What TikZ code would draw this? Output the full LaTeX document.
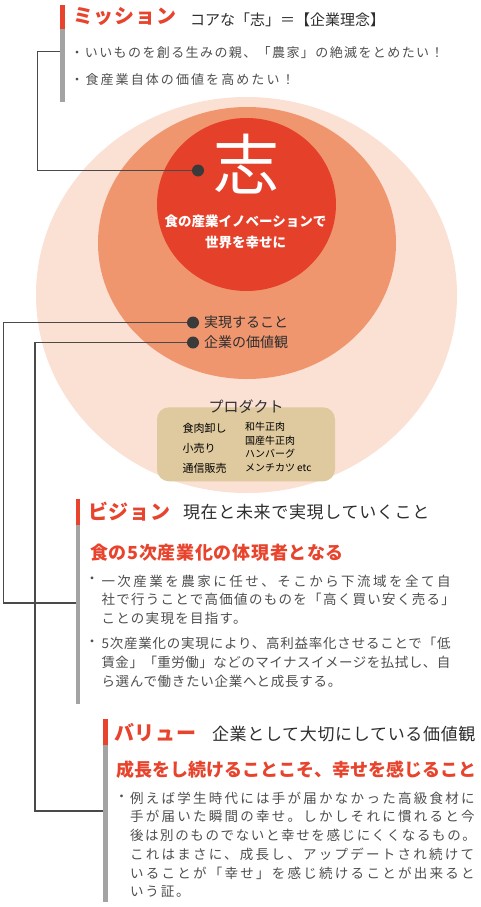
\documentclass[tikz,border=0pt]{standalone}
\usepackage{fontspec}
\setmainfont{Noto Sans CJK JP}
\newcommand\fsz[1]{\fontsize{#1}{#1}\selectfont}
\newcommand\lsp[2]{{\addfontfeatures{LetterSpace=#1}#2}}
\definecolor{cOuter}{HTML}{FBE0D4}
\definecolor{cMid}{HTML}{F0966F}
\definecolor{cInner}{HTML}{E5402A}
\definecolor{tred}{HTML}{E8432C}
\definecolor{bgray}{HTML}{A3A3A3}
\definecolor{lcol}{HTML}{4A4A4A}
\definecolor{dotcol}{HTML}{3A3A3A}
\definecolor{tan}{HTML}{DFC99F}
\definecolor{tdark}{HTML}{2E2E2E}
\definecolor{tgray}{HTML}{4F4F4F}
\tikzset{
  ttl/.style={anchor=west, text=tred, font=\fsz{20}\bfseries},
  hdr/.style={anchor=west, text=tdark, font=\fsz{17}},
  subt/.style={anchor=west, text=tred, font=\fsz{18}\bfseries},
  body/.style={anchor=west, text=tgray, font=\fsz{13.5}},
  bul/.style={anchor=center, text=tgray, font=\fsz{13.5}},
  conn/.style={draw=lcol, line width=1.2pt},
  dotn/.style={circle, fill=dotcol, minimum size=12pt},
  lbl/.style={anchor=west, text=tdark, font=\fsz{14}},
  prod/.style={anchor=west, text=black, font=\fsz{11}},
  prodr/.style={anchor=west, text=black, font=\fsz{10}},
  wtxt/.style={anchor=center, text=white, font=\fsz{13.5}\bfseries},
}
\begin{document}
\begin{tikzpicture}[x=1pt, y=-1pt, every node/.style={inner sep=0pt, outer sep=0pt}]
\useasboundingbox (0,0) rectangle (480,907);
\fill[white] (0,0) rectangle (480,907);
% circles
\fill[cOuter] (246.5,295) ellipse [x radius=210.5, y radius=198];
\fill[cMid] (247,243) ellipse [x radius=149, y radius=136];
\fill[cInner] (246.5,204.5) ellipse [x radius=89.5, y radius=86.5];
% product box
\node[fill=tan, rounded corners=12pt, minimum width=178pt, minimum height=74pt] (pbox) at (246,444.3) {};
\node[anchor=center, text=tdark, font=\fsz{15}] (ptitle) at (246,406.3) {プロダクト};
\node[prod] (p1) at (182.5,428.5) {食肉卸し};
\node[prod] (p2) at (182.5,448) {小売り};
\node[prod] (p3) at (182.5,468) {通信販売};
\node[prodr] (q1) at (245,427) {和牛正肉};
\node[prodr] (q2) at (245,441) {国産牛正肉};
\node[prodr] (q3) at (245,454) {ハンバーグ};
\node[prodr] (q4) at (245,467.5) {メンチカツ etc};
% circle texts
\node[anchor=center, text=white, font=\fsz{66}] (kokoro) at (246.5,164) {志};
\node[wtxt] (w1) at (245.5,221) {食の産業イノベーションで};
\node[wtxt] (w2) at (245.5,242.5) {世界を幸せに};
% bars
\fill[tred] (60,5) rectangle (64.5,29);
\fill[bgray] (60,29) rectangle (64.5,102);
\fill[tred] (75.5,499) rectangle (80,525);
\fill[bgray] (75.5,525) rectangle (80,704);
\fill[tred] (103,719) rectangle (107.5,745);
\fill[bgray] (103,745) rectangle (107.5,902);
% dots and labels
\node[dotn] (d1) at (198,170.5) {};
\node[dotn] (d2) at (193,322.5) {};
\node[dotn] (d3) at (193,342.5) {};
\node[lbl] (l2) at (204,322) {実現すること};
\node[lbl] (l3) at (204,342) {企業の価値観};
% connectors
\coordinate (m0) at (37.7,51.7);
\coordinate (m1) at (60,51.7);
\coordinate (v0) at (3.3,603);
\coordinate (v1) at (75.5,603);
\coordinate (u0) at (35,811);
\coordinate (u1) at (103,811);
\draw[conn] (d1.west) -| (m0) -- (m1);
\draw[conn] (d2.west) -| (v0) -- (v1);
\draw[conn] (d3.west) -| (u0) -- (u1);
% mission
\node[ttl] (mt) at (73,16.5) {\lsp{4}{ミッション}};
\node[hdr, font=\fsz{15}] (mh) at (190,19.5) {コアな「志」＝【企業理念】};
\node[body, font=\fsz{13}] (mb1) at (70.5,53) {\lsp{10.8}{・いいものを創る生みの親、「農家」の絶滅をとめたい！}};
\node[body, font=\fsz{13}] (mb2) at (70.5,80) {\lsp{16}{・食産業自体の価値を高めたい！}};
% vision
\node[ttl] (vt) at (88,512) {\lsp{4}{ビジョン}};
\node[hdr] (vh) at (183,512.5) {\lsp{4}{現在と未来で実現していくこと}};
\node[subt] (vs) at (90,553) {\lsp{4}{食の5次産業化の体現者となる}};
\node[bul] (vb1) at (92,580.5) {・};
\node[bul] (vb2) at (92,643) {・};
\node[body] (va1) at (101.5,581) {\lsp{18.4}{一次産業を農家に任せ、そこから下流域を全て自}};
\node[body] (va2) at (101.5,599) {\lsp{9.6}{社で行うことで高価値のものを「高く買い安く売る」}};
\node[body] (va3) at (101.5,618) {\lsp{9.6}{ことの実現を目指す。}};
\node[body] (vc1) at (101.5,643) {\lsp{5.8}{5次産業化の実現により、高利益率化させることで「低}};
\node[body] (vc2) at (101.5,662) {\lsp{3.7}{賃金」「重労働」などのマイナスイメージを払拭し、自}};
\node[body] (vc3) at (101.5,681) {\lsp{5.4}{ら選んで働きたい企業へと成長する。}};
% value
\node[ttl] (ut) at (114,733) {\lsp{4}{バリュー}};
\node[hdr] (uh) at (212,734.5) {\lsp{4}{企業として大切にしている価値観}};
\node[subt] (us) at (116,770) {成長をし続けることこそ、幸せを感じること};
\node[bul] (ub1) at (121.7,798.5) {・};
\node[body] (ua1) at (130,798.5) {\lsp{16.8}{例えば学生時代には手が届かなかった高級食材に}};
\node[body] (ua2) at (130,816.7) {\lsp{16.8}{手が届いた瞬間の幸せ。しかしそれに慣れると今}};
\node[body] (ua3) at (130,835) {\lsp{12}{後は別のものでないと幸せを感じにくくなるもの。}};
\node[body] (ua4) at (130,854) {\lsp{16.8}{これはまさに、成長し、アップデートされ続けて}};
\node[body] (ua5) at (130,873) {\lsp{16.8}{いることが「幸せ」を感じ続けることが出来ると}};
\node[body] (ua6) at (130,892) {\lsp{14}{いう証。}};
\end{tikzpicture}
\end{document}
